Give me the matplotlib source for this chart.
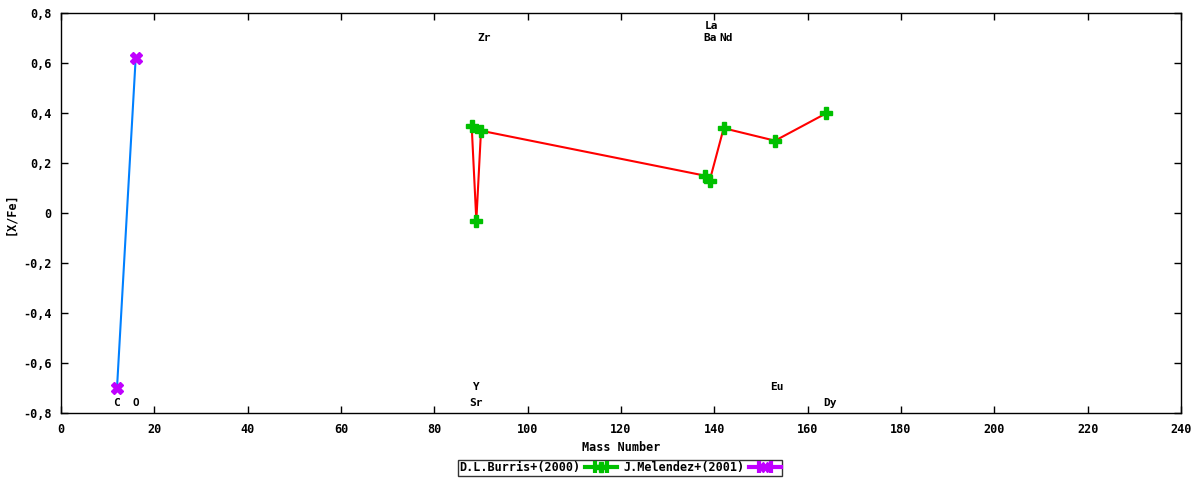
import numpy as np
import matplotlib
matplotlib.use("Agg")
import matplotlib.pyplot as plt

# Burris et al. (2000)
burris_mass = [88, 89, 90, 138, 139, 142, 153, 164]
burris_xfe = [0.35, -0.03, 0.33, 0.15, 0.13, 0.34, 0.29, 0.40]

# Melendez et al. (2001)
melendez_mass = [12, 16]
melendez_xfe = [-0.70, 0.62]

# element labels: (name, x, y)
label_names = ["C", "O", "Sr", "Y", "Zr", "Ba", "La", "Nd", "Eu", "Dy"]
label_x = [12, 16, 89, 89, 90.7, 139.0, 139.3, 142.6, 153.4, 164.8]
label_y = [-0.76, -0.76, -0.76, -0.695, 0.70, 0.70, 0.75, 0.70, -0.695, -0.76]

x_ticks = list(range(0, 241, 20))
y_ticks = [-0.8, -0.6, -0.4, -0.2, 0, 0.2, 0.4, 0.6, 0.8]
y_tick_labels = ["-0,8", "-0,6", "-0,4", "-0,2", "0", "0,2", "0,4", "0,6", "0,8"]

FONT = dict(family="DejaVu Sans Mono", fontsize=8.5, fontweight="bold")
LABEL_FONT = dict(family="DejaVu Sans Mono", fontsize=8, fontweight="bold")

fig = plt.figure(figsize=(12, 4.8), dpi=100)
ax = fig.add_axes([61 / 1200, 1 - 413 / 480, 1120 / 1200, (413 - 13.3) / 480])

# connecting lines
ax.plot(burris_mass, burris_xfe, color="#ff0000", lw=1.5, zorder=2)
ax.plot(melendez_mass, melendez_xfe, color="#0080ff", lw=1.5, zorder=2)

# points
ax.plot(burris_mass, burris_xfe, ls="none", marker="P", ms=9, color="#00c000",
        mec="#00c000", zorder=3)
ax.plot(melendez_mass, melendez_xfe, ls="none", marker="X", ms=9, color="#c000ff",
        mec="#c000ff", zorder=3)

for name, lx, ly in zip(label_names, label_x, label_y):
    ax.text(lx, ly, name, ha="center", va="center", **LABEL_FONT)

ax.set_xlim(0, 240)
ax.set_ylim(-0.8, 0.8)
ax.set_xticks(x_ticks)
ax.set_xticklabels([str(t) for t in x_ticks], **FONT)
ax.set_yticks(y_ticks)
ax.set_yticklabels(y_tick_labels, **FONT)
ax.tick_params(direction="in", length=5, width=1, top=True, right=True, pad=7)
for sp in ax.spines.values():
    sp.set_linewidth(1)
ax.set_xlabel("Mass Number", labelpad=4, **FONT)
ax.set_ylabel("[X/Fe]", labelpad=4, **FONT)

# legend proxies drawn as error bar samples like the original
h1 = ax.errorbar([np.nan], [np.nan], xerr=[1], color="#00c000", marker="P", ms=7,
                 lw=3, capsize=4, capthick=3)
h2 = ax.errorbar([np.nan], [np.nan], xerr=[1], color="#c000ff", marker="X", ms=7,
                 lw=3, capsize=4, capthick=3)
leg = fig.legend([h1, h2], ["D.L.Burris+(2000)", "J.Melendez+(2001)"],
                 loc="center", bbox_to_anchor=(620 / 1200, 1 - 468 / 480), ncol=2,
                 markerfirst=False, frameon=True, fancybox=False, borderpad=0.1,
                 borderaxespad=0, handlelength=2.7, handletextpad=0.4,
                 columnspacing=0.5,
                 prop=dict(family="DejaVu Sans Mono", size=8.5, weight="bold"))
leg.get_frame().set_edgecolor("black")
leg.get_frame().set_linewidth(1)

fig.savefig("out.png", dpi=100)
